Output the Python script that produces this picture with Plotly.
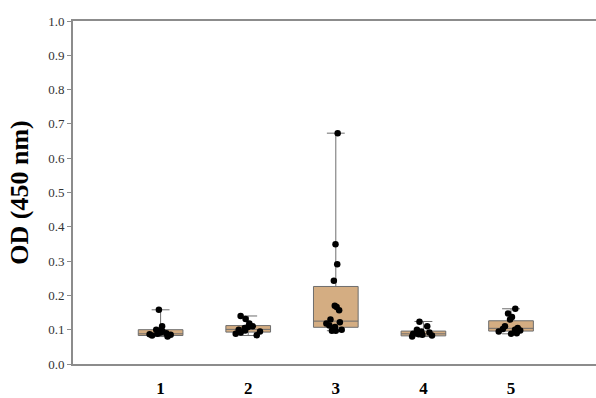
import plotly.graph_objects as go

groups = [1, 2, 3, 4, 5]
tick_labels = ["1", "2", "3", "4", "5"]

# box statistics
q1 = [0.083, 0.093, 0.107, 0.082, 0.096]
median = [0.088, 0.101, 0.125, 0.088, 0.104]
q3 = [0.100, 0.112, 0.226, 0.096, 0.126]
lower = [0.080, 0.083, 0.097, 0.080, 0.088]
upper = [0.158, 0.140, 0.673, 0.124, 0.161]

# individual measurements
g1 = [0.158, 0.110, 0.100, 0.097, 0.095, 0.092, 0.090, 0.088, 0.087, 0.085, 0.083, 0.080]
g2 = [0.140, 0.131, 0.118, 0.110, 0.108, 0.105, 0.100, 0.098, 0.095, 0.092, 0.088, 0.084]
g3 = [0.673, 0.349, 0.291, 0.243, 0.170, 0.166, 0.157, 0.130, 0.122, 0.118, 0.112, 0.108, 0.100, 0.097, 0.097]
g4 = [0.123, 0.110, 0.100, 0.095, 0.092, 0.090, 0.088, 0.087, 0.085, 0.083, 0.080]
g5 = [0.161, 0.147, 0.137, 0.130, 0.110, 0.105, 0.102, 0.100, 0.098, 0.095, 0.090, 0.088]

values = [g1, g2, g3, g4, g5]

BOX_FILL = "#D4AD82"
BOX_LINE = "#6E6E6E"
AXIS = "#8C8C8C"
SERIF = "Liberation Serif"

fig = go.Figure()

fig.add_trace(go.Box(
    x=groups, q1=q1, median=median, q3=q3,
    lowerfence=lower, upperfence=upper,
    fillcolor=BOX_FILL, line=dict(color=BOX_LINE, width=1),
    width=0.51, whiskerwidth=0.4, boxpoints=False,
    showlegend=False, hoverinfo="skip",
))

px, py = [], []
for g, vals in zip(groups, values):
    px += [g] * len(vals)
    py += vals

fig.add_trace(go.Box(
    x=px, y=py, boxpoints="all", jitter=0.6, pointpos=0,
    fillcolor="rgba(0,0,0,0)", line=dict(color="rgba(0,0,0,0)", width=0),
    marker=dict(color="black", size=6.5),
    width=0.51, whiskerwidth=0,
    showlegend=False,
))

fig.update_layout(
    width=596, height=398,
    margin=dict(l=73, r=0, t=21, b=30),
    paper_bgcolor="white", plot_bgcolor="white",
    boxmode="overlay",
    font=dict(family=SERIF, color="#333333"),
    xaxis=dict(
        range=[0, 5.97], tickmode="array", tickvals=groups, ticktext=tick_labels,
        showline=True, linecolor=AXIS, linewidth=2, mirror=True,
        ticks="", showgrid=False, zeroline=False,
        tickfont=dict(family=SERIF, size=17, color="black", weight="bold"),
        ticklabelstandoff=8,
    ),
    yaxis=dict(
        range=[0, 1.0], dtick=0.1, tickformat=".1f",
        showline=True, linecolor=AXIS, linewidth=2,
        ticks="outside", ticklen=4, tickcolor=AXIS, tickwidth=1,
        showgrid=False, zeroline=False,
        tickfont=dict(family=SERIF, size=13, color="#333333"),
        title=dict(text="OD (450 nm)", standoff=12,
                   font=dict(family=SERIF, size=26, color="black", weight="bold")),
    ),
)

fig.write_html("out.html")
